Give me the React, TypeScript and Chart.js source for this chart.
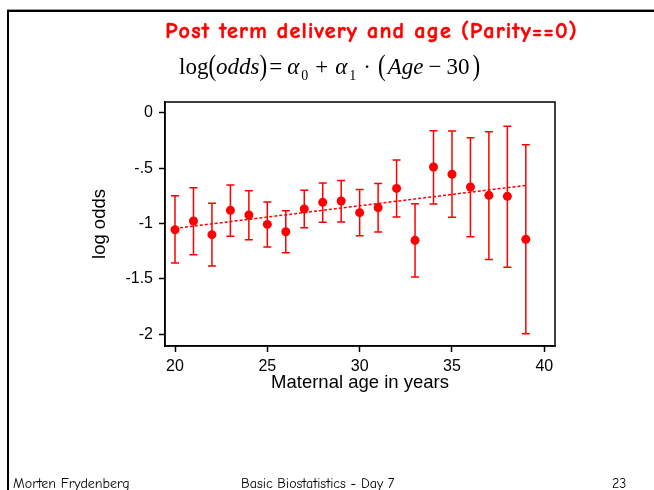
import React, { useEffect, useRef } from "react";
import { Chart, registerables } from "chart.js";

Chart.register(...registerables);

// ---- data ----
const ages = [20, 21, 22, 23, 24, 25, 26, 27, 28, 29, 30, 31, 32, 33, 34, 35, 36, 37, 38, 39];
const logOdds = [-1.056, -0.977, -1.101, -0.881, -0.923, -1.008, -1.074, -0.869, -0.809, -0.797, -0.902, -0.857, -0.683, -1.152, -0.49, -0.556, -0.671, -0.746, -0.755, -1.143];
const upperCI = [-0.749, -0.677, -0.818, -0.653, -0.704, -0.806, -0.884, -0.701, -0.635, -0.611, -0.692, -0.638, -0.427, -0.821, -0.162, -0.165, -0.226, -0.171, -0.123, -0.289];
const lowerCI = [-1.356, -1.281, -1.383, -1.116, -1.146, -1.212, -1.263, -1.038, -0.989, -0.986, -1.11, -1.077, -0.941, -1.483, -0.824, -0.944, -1.119, -1.326, -1.395, -1.994];
const fitAges = [20, 39];
const fitValues = [-1.044, -0.656];
const xTicks = [20, 25, 30, 35, 40];
const xTickLabels = ["20", "25", "30", "35", "40"];
const yTicks = [0, -0.5, -1, -1.5, -2];
const yTickLabels = ["0", "-.5", "-1", "-1.5", "-2"];

const RED = "#ff0000";
const SANS = "'Liberation Sans', Arial, Helvetica, sans-serif";
const COMIC = "'Comic Sans MS', 'Comic Neue', 'DejaVu Sans', sans-serif";
const SERIF = "'Liberation Serif', 'Times New Roman', serif";

const errorBarPlugin = {
  id: "errorBars",
  beforeDatasetsDraw(chart: any) {
    const { ctx, scales } = chart;
    const xs = scales.x;
    const ys = scales.y;
    ctx.save();
    ctx.strokeStyle = RED;
    ctx.lineWidth = 1.5;
    const cap = 4;
    for (let i = 0; i < ages.length; i++) {
      const x = xs.getPixelForValue(ages[i]);
      const yt = ys.getPixelForValue(upperCI[i]);
      const yb = ys.getPixelForValue(lowerCI[i]);
      ctx.beginPath();
      ctx.moveTo(x, yt);
      ctx.lineTo(x, yb);
      ctx.moveTo(x - cap, yt);
      ctx.lineTo(x + cap, yt);
      ctx.moveTo(x - cap, yb);
      ctx.lineTo(x + cap, yb);
      ctx.stroke();
    }
    ctx.restore();
  },
  afterDraw(chart: any) {
    const { ctx, chartArea } = chart;
    ctx.save();
    ctx.strokeStyle = "#000";
    ctx.lineWidth = 1.5;
    ctx.strokeRect(chartArea.left, chartArea.top, chartArea.right - chartArea.left, chartArea.bottom - chartArea.top);
    ctx.restore();
  },
};

export default function App() {
  const ref = useRef<HTMLCanvasElement>(null);

  useEffect(() => {
    if (!ref.current) return;
    const chart = new Chart(ref.current, {
      type: "scatter",
      data: {
        datasets: [
          {
            type: "line",
            data: fitAges.map((a, i) => ({ x: a, y: fitValues[i] })),
            borderColor: RED,
            borderWidth: 1.5,
            borderDash: [3, 2],
            pointRadius: 0,
            fill: false,
          } as any,
          {
            data: ages.map((a, i) => ({ x: a, y: logOdds[i] })),
            backgroundColor: RED,
            borderColor: RED,
            pointRadius: 4.5,
            borderWidth: 0,
          },
        ],
      },
      options: {
        responsive: false,
        animation: false,
        events: [],
        layout: { padding: { left: 80, right: 99, top: 102, bottom: 94 } },
        plugins: { legend: { display: false }, tooltip: { enabled: false }, title: { display: false } },
        scales: {
          x: {
            type: "linear",
            min: 19.458,
            max: 40.58,
            afterFit: (s: any) => { s.height = 50; },
            afterBuildTicks: (s: any) => { s.ticks = xTicks.map((v) => ({ value: v })); },
            grid: { display: true, drawOnChartArea: false, drawTicks: true, tickLength: 6, tickColor: "#000", tickWidth: 1.5 },
            border: { display: true, color: "#000", width: 1.5 },
            ticks: {
              color: "#000",
              font: { family: SANS, size: 16 },
              padding: 5,
              maxRotation: 0,
              autoSkip: false,
              callback: (v: any) => xTickLabels[xTicks.indexOf(Number(v))] ?? "",
            },
            title: {
              display: true,
              text: "Maternal age in years",
              color: "#000",
              font: { family: SANS, size: 18.5 },
              padding: { top: 0, bottom: 2 },
            },
          },
          y: {
            type: "linear",
            min: -2.1056,
            max: 0.0966,
            afterFit: (s: any) => { s.width = 85; },
            afterBuildTicks: (s: any) => { s.ticks = yTicks.map((v) => ({ value: v })); },
            grid: { display: true, drawOnChartArea: false, drawTicks: true, tickLength: 6, tickColor: "#000", tickWidth: 1.5 },
            border: { display: true, color: "#000", width: 1.5 },
            ticks: {
              color: "#000",
              font: { family: SANS, size: 16 },
              padding: 6,
              autoSkip: false,
              callback: (v: any) => {
                const idx = yTicks.findIndex((t) => Math.abs(t - Number(v)) < 1e-9);
                return idx >= 0 ? yTickLabels[idx] : "";
              },
            },
            title: {
              display: true,
              text: "log odds",
              color: "#000",
              font: { family: SANS, size: 18.5 },
              padding: { top: 9, bottom: 0 },
            },
          },
        },
      },
      plugins: [errorBarPlugin],
    });
    return () => chart.destroy();
  }, []);

  const paren: React.CSSProperties = { display: "inline-block", transform: "scaleY(1.3)", transformOrigin: "50% 62%" };
  const sub: React.CSSProperties = { fontSize: 14, fontStyle: "normal", marginLeft: 2 };
  const foot: React.CSSProperties = { position: "absolute", top: 476, fontFamily: COMIC, fontSize: 14, lineHeight: "16px", color: "#000", whiteSpace: "nowrap" };

  return (
    <div style={{ position: "fixed", left: 0, top: 0, width: 654, height: 490, background: "#fff", overflow: "hidden" }}>
      <div style={{ position: "absolute", left: 7, top: 9, width: 647, height: 1, background: "#999" }} />
      <div style={{ position: "absolute", left: 7, top: 10, width: 647, height: 2, background: "#000" }} />
      <div style={{ position: "absolute", left: 7, top: 10, width: 2, height: 480, background: "#000" }} />
      <canvas ref={ref} width={654} height={490} style={{ position: "absolute", left: 0, top: 0, width: 654, height: 490 }} />
      <div style={{ position: "absolute", left: 100, width: 543, top: 18, textAlign: "center", color: RED, fontFamily: COMIC, fontWeight: "bold", fontSize: 22, letterSpacing: 1.2, lineHeight: "26px", whiteSpace: "nowrap", WebkitTextStroke: "0.5px #ff0000" } as React.CSSProperties}>
        Post term delivery and age (Parity==0)
      </div>
      <div style={{ position: "absolute", left: 179, top: 53, fontFamily: SERIF, fontSize: 23, lineHeight: "28px", color: "#000", whiteSpace: "nowrap" }}>
        <span>log</span>
        <span style={paren}>(</span>
        <i>odds</i>
        <span style={paren}>)</span>
        <span style={{ margin: "0 5px 0 2px" }}>=</span>
        <i>α</i>
        <sub style={sub}>0</sub>
        <span style={{ margin: "0 7px" }}>+</span>
        <i>α</i>
        <sub style={sub}>1</sub>
        <span style={{ margin: "0 7px" }}>·</span>
        <span style={paren}>(</span>
        <i style={{ marginLeft: 2 }}>Age</i>
        <span style={{ margin: "0 5px" }}>−</span>
        <span>30</span>
        <span style={{ ...paren, marginLeft: 3 }}>)</span>
      </div>
      <div style={{ ...foot, left: 13 }}>Morten Frydenberg</div>
      <div style={{ ...foot, left: 241 }}>Basic Biostatistics - Day 7</div>
      <div style={{ ...foot, left: 612 }}>23</div>
    </div>
  );
}
